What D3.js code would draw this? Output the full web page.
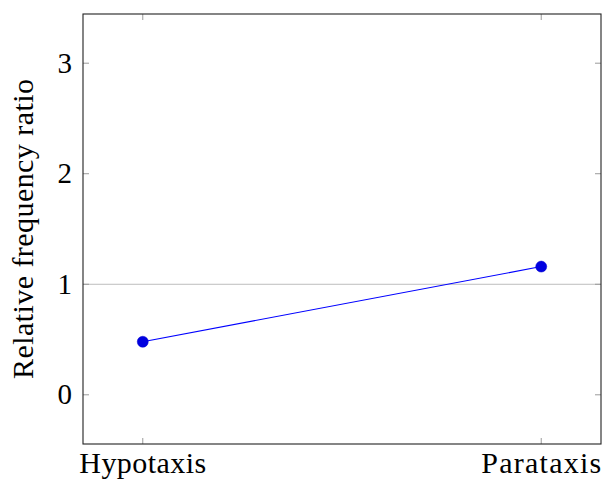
<!DOCTYPE html>
<html>
<head>
<meta charset="utf-8">
<script src="https://cdn.jsdelivr.net/npm/d3@7"></script>
<style>
  html, body { margin: 0; padding: 0; background: #fff; }
  svg { display: block; }
  text { font-family: "Liberation Serif", "Times New Roman", serif; fill: #000; }
</style>
</head>
<body>
<svg id="chart" width="602" height="480"></svg>
<script>
const categories = ["Hypotaxis", "Parataxis"];
const values = [0.48, 1.16];
const yTicks = [0, 1, 2, 3];
const yLabel = "Relative frequency ratio";
const referenceLevel = 1;

(function () {
const svg = d3.select("#chart");
const pLeft = 83, pRight = 601, pTop = 14, pBottom = 444;

const x = d3.scaleLinear().domain([-0.15, categories.length - 1 + 0.15]).range([pLeft, pRight]);
const y = d3.scaleLinear().domain([-0.445, 3.445]).range([pBottom, pTop]);

// reference line
svg.append("line")
  .attr("x1", pLeft).attr("x2", pRight)
  .attr("y1", y(referenceLevel)).attr("y2", y(referenceLevel))
  .attr("stroke", "#bdbdbd").attr("stroke-width", 1);

// ticks (inside, all four sides)
const tickLen = 6;
const tickColor = "#9a9a9a";
yTicks.forEach(t => {
  svg.append("line").attr("x1", pLeft).attr("x2", pLeft + tickLen)
    .attr("y1", y(t)).attr("y2", y(t)).attr("stroke", tickColor);
  svg.append("line").attr("x1", pRight - tickLen).attr("x2", pRight)
    .attr("y1", y(t)).attr("y2", y(t)).attr("stroke", tickColor);
  svg.append("text").attr("x", 72).attr("y", y(t)).attr("dy", "0.33em")
    .attr("text-anchor", "end").attr("font-size", 29).text(t);
});
categories.forEach((c, i) => {
  svg.append("line").attr("x1", x(i)).attr("x2", x(i))
    .attr("y1", pBottom).attr("y2", pBottom - tickLen).attr("stroke", tickColor);
  svg.append("line").attr("x1", x(i)).attr("x2", x(i))
    .attr("y1", pTop).attr("y2", pTop + tickLen).attr("stroke", tickColor);
});

// x labels
const labelWidths = [127, 120];
categories.forEach((c, i) => {
  svg.append("text").attr("x", x(i) - labelWidths[i] / 2).attr("y", 473)
    .attr("font-size", 30)
    .attr("textLength", labelWidths[i]).attr("lengthAdjust", "spacing")
    .text(c);
});

// y label
svg.append("text")
  .attr("transform", `translate(33, ${(pTop + pBottom) / 2}) rotate(-90)`)
  .attr("text-anchor", "middle")
  .attr("font-size", 30)
  .attr("textLength", 300).attr("lengthAdjust", "spacing")
  .text(yLabel);

// frame
svg.append("rect")
  .attr("x", pLeft).attr("y", pTop)
  .attr("width", pRight - pLeft).attr("height", pBottom - pTop)
  .attr("fill", "none").attr("stroke", "#222").attr("stroke-width", 1.1);

// series
const line = d3.line().x((d, i) => x(i)).y(d => y(d));
svg.append("path").datum(values)
  .attr("d", line).attr("fill", "none")
  .attr("stroke", "#0000ff").attr("stroke-width", 1.1);
svg.selectAll("circle.pt").data(values).enter().append("circle")
  .attr("class", "pt")
  .attr("cx", (d, i) => x(i)).attr("cy", d => y(d))
  .attr("r", 5.5).attr("fill", "#0000e0").attr("stroke", "#0000d0").attr("stroke-width", 0.5);
})();
</script>
</body>
</html>
